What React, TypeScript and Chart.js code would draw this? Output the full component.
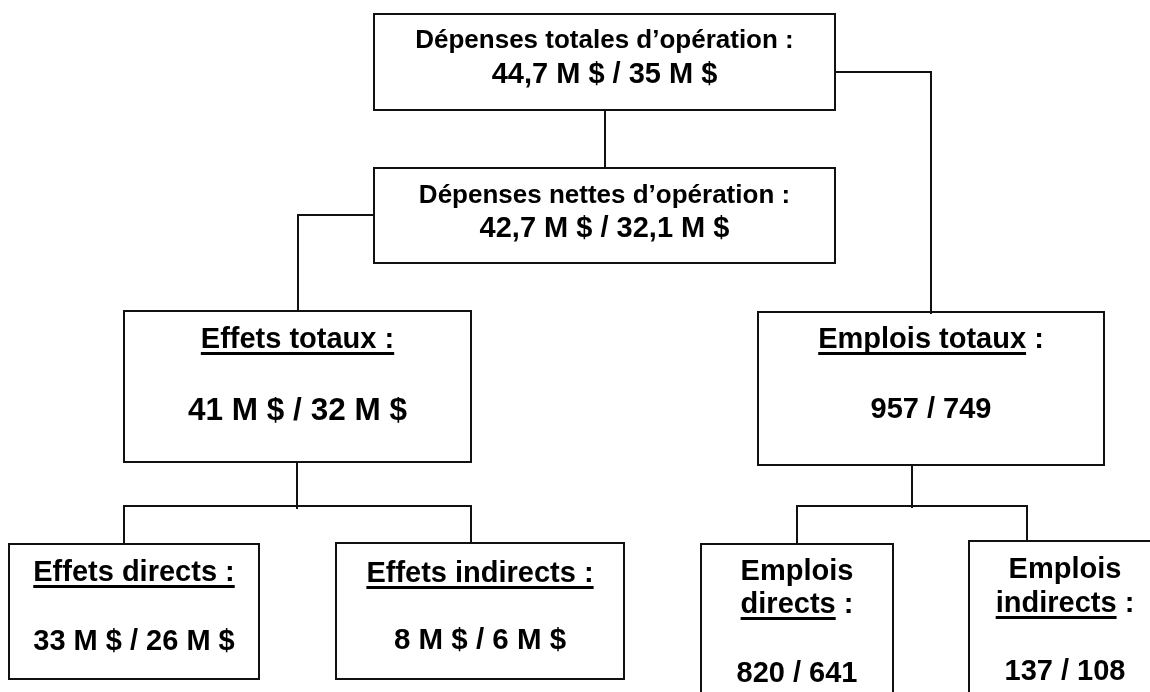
import React, { useEffect, useRef } from "react";
import { Chart, registerables } from "chart.js";

Chart.register(...registerables);

// Node labels ("_text_" = underlined part)
const nodeLabels: string[][] = [
  ["Dépenses totales d’opération :", "44,7 M $ / 35 M $"],
  ["Dépenses nettes d’opération :", "42,7 M $ / 32,1 M $"],
  ["_Effets totaux :_", "41 M $ / 32 M $"],
  ["_Emplois totaux_ :", "957 / 749"],
  ["_Effets directs :_", "33 M $ / 26 M $"],
  ["_Effets indirects :_", "8 M $ / 6 M $"],
  ["Emplois", "_directs_ :", "820 / 641"],
  ["Emplois", "_indirects_ :", "137 / 108"],
];

// Node extents in chart units
const nodeLeft = [374, 374, 124, 758, 9, 336, 701, 969];
const nodeRight = [835, 835, 471, 1104, 259, 624, 893, 1161];
const nodeTop = [14, 168, 311, 312, 544, 543, 544, 541];
const nodeBottom = [110, 263, 462, 465, 679, 679, 720, 720];
const nodeBaselines = [
  [48, 83],
  [203, 237],
  [348, 420],
  [348, 418],
  [581, 650],
  [582, 649],
  [580, 613, 682],
  [578, 612, 680],
];
const nodeFontSize = [
  [26, 29],
  [26, 29],
  [29, 31.5],
  [29, 29],
  [29, 29],
  [29, 29.5],
  [29, 29, 29],
  [29, 29, 29],
];

// Connector polylines in chart units
const connectors: [number, number][][] = [
  [[605, 110], [605, 168]],
  [[835, 72], [931, 72], [931, 313]],
  [[374, 215], [298, 215], [298, 311]],
  [[297, 462], [297, 508]],
  [[124, 544], [124, 506], [471, 506], [471, 543]],
  [[912, 465], [912, 507]],
  [[797, 544], [797, 506], [1027, 506], [1027, 541]],
];

const FONT = '"Liberation Sans", Arial, sans-serif';

const labelPlugin = {
  id: "nodeLabels",
  afterDatasetsDraw(chart: any) {
    const { ctx, scales } = chart;
    const xs = scales.x;
    const ys = scales.y;
    ctx.save();
    ctx.fillStyle = "#000";
    ctx.textBaseline = "alphabetic";
    ctx.textAlign = "left";
    nodeLabels.forEach((lines, i) => {
      const cx = (xs.getPixelForValue(nodeLeft[i]) + xs.getPixelForValue(nodeRight[i])) / 2;
      lines.forEach((raw, j) => {
        const fs = nodeFontSize[i][j];
        ctx.font = `bold ${fs}px ${FONT}`;
        const y = ys.getPixelForValue(nodeBaselines[i][j]);
        const parts = raw.split("_");
        const widths = parts.map((p) => ctx.measureText(p).width);
        const total = widths.reduce((a, b) => a + b, 0);
        let x = cx - total / 2;
        parts.forEach((p, k) => {
          if (!p) return;
          ctx.fillText(p, x, y);
          if (k % 2 === 1) {
            ctx.fillRect(x, y + 4, widths[k], 3);
          }
          x += widths[k];
        });
      });
    });
    ctx.restore();
  },
};

export default function App() {
  const ref = useRef<HTMLCanvasElement>(null);
  useEffect(() => {
    if (!ref.current) return;
    const boxSets = nodeLeft.map((l, i) => ({
      data: [
        { x: l, y: nodeTop[i] },
        { x: nodeRight[i], y: nodeTop[i] },
        { x: nodeRight[i], y: nodeBottom[i] },
        { x: l, y: nodeBottom[i] },
        { x: l, y: nodeTop[i] },
      ],
    }));
    const connSets = connectors.map((c) => ({ data: c.map(([x, y]) => ({ x, y })) }));
    const datasets = [...boxSets, ...connSets].map((d) => ({
      ...d,
      showLine: true,
      borderColor: "#111",
      borderWidth: 2,
      pointRadius: 0,
      fill: false,
      tension: 0,
      borderJoinStyle: "miter" as const,
      borderCapStyle: "square" as const,
    }));
    const chart = new Chart(ref.current, {
      type: "scatter",
      data: { datasets },
      options: {
        animation: false,
        responsive: true,
        maintainAspectRatio: false,
        layout: { padding: 0 },
        plugins: { legend: { display: false }, tooltip: { enabled: false } },
        scales: {
          x: { type: "linear", min: 0, max: 1150, display: false },
          y: { type: "linear", min: 0, max: 692, reverse: true, display: false },
        },
      },
      plugins: [labelPlugin],
    });
    return () => chart.destroy();
  }, []);
  return (
    <div style={{ position: "absolute", left: 0, top: 0, width: 1150, height: 692, background: "#fff" }}>
      <canvas ref={ref} />
    </div>
  );
}
